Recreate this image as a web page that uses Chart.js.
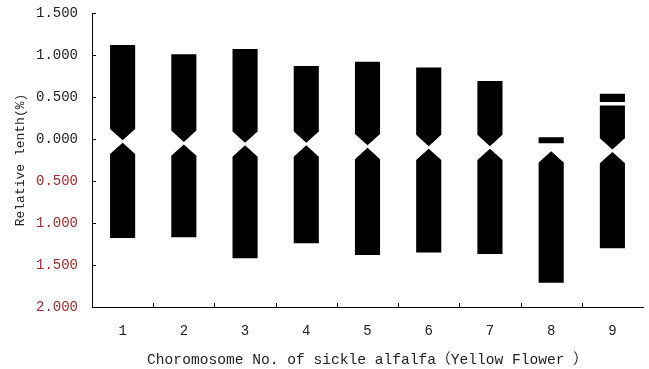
<!DOCTYPE html>
<html>
<head>
<meta charset="utf-8">
<script src="https://cdn.jsdelivr.net/npm/chart.js@4"></script>
<style>
  html, body { margin: 0; padding: 0; background: #fff; }
  #wrap { width: 649px; height: 369px; }
</style>
</head>
<body>
<div id="wrap"><canvas id="chart"></canvas></div>
<script>
// Datos del cariotipo (longitud relativa, %)
const chromosomes = ['1', '2', '3', '4', '5', '6', '7', '8', '9'];
const shortArm = [1.12, 1.01, 1.07, 0.87, 0.92, 0.85, 0.69, null, 0.40];
const longArm = [-1.18, -1.17, -1.42, -1.24, -1.38, -1.35, -1.37, -1.71, -1.30];
const centromere = [-0.03, -0.05, -0.06, -0.06, -0.09, -0.10, -0.10, -0.13, -0.14];
const satelliteTop = [null, null, null, null, null, null, null, 0.02, 0.54];
const satelliteBottom = [null, null, null, null, null, null, null, -0.05, 0.44];
const yTicks = [1.5, 1.0, 0.5, 0, -0.5, -1.0, -1.5, -2.0];

const halfWidth = 0.205;   // mitad del ancho del cromosoma
const shoulder = 0.15;     // donde empieza la muesca
const tip = 0.015;         // punta de la muesca

const mono = '"Liberation Mono", "DejaVu Sans Mono", "Noto Sans CJK SC", monospace';

function polygon(points) {
  return {
    data: points.map(p => ({ x: p[0], y: p[1] })),
    showLine: true,
    fill: 'shape',
    backgroundColor: '#000',
    borderColor: 'rgba(0,0,0,0)',
    borderWidth: 0,
    pointRadius: 0,
    pointHoverRadius: 0,
    tension: 0
  };
}

const datasets = [];
chromosomes.forEach((name, i) => {
  const x = i + 1;
  const c = centromere[i];
  // Brazo corto
  if (shortArm[i] !== null) {
    datasets.push(polygon([
      [x - halfWidth, shortArm[i]], [x + halfWidth, shortArm[i]],
      [x + halfWidth, c + shoulder], [x, c + tip],
      [x - halfWidth, c + shoulder], [x - halfWidth, shortArm[i]]
    ]));
  }
  // Brazo largo
  datasets.push(polygon([
    [x - halfWidth, c - shoulder], [x, c - tip], [x + halfWidth, c - shoulder],
    [x + halfWidth, longArm[i]], [x - halfWidth, longArm[i]], [x - halfWidth, c - shoulder]
  ]));
  // Satélite
  if (satelliteTop[i] !== null) {
    datasets.push(polygon([
      [x - halfWidth, satelliteTop[i]], [x + halfWidth, satelliteTop[i]],
      [x + halfWidth, satelliteBottom[i]], [x - halfWidth, satelliteBottom[i]],
      [x - halfWidth, satelliteTop[i]]
    ]));
  }
});

// Marcas de los ejes hacia dentro
const innerTicks = {
  id: 'innerTicks',
  afterDraw(chart) {
    const ctx = chart.ctx;
    const xs = chart.scales.x;
    const ys = chart.scales.y;
    ctx.save();
    ctx.strokeStyle = '#000';
    ctx.lineWidth = 1;
    ctx.beginPath();
    yTicks.forEach(v => {
      const py = Math.round(ys.getPixelForValue(v)) + 0.5;
      ctx.moveTo(xs.left, py);
      ctx.lineTo(xs.left + 4, py);
    });
    for (let k = 1; k < chromosomes.length; k++) {
      const px = Math.round(xs.getPixelForValue(k + 0.5)) + 0.5;
      ctx.moveTo(px, ys.bottom);
      ctx.lineTo(px, ys.bottom - 4);
    }
    ctx.stroke();
    ctx.restore();
  }
};

new Chart(document.getElementById('chart'), {
  type: 'scatter',
  data: { datasets: datasets },
  plugins: [innerTicks],
  options: {
    responsive: true,
    maintainAspectRatio: false,
    animation: false,
    events: [],
    layout: { padding: { top: 13, right: 6, left: 0, bottom: 0 } },
    plugins: {
      legend: { display: false },
      tooltip: { enabled: false }
    },
    scales: {
      x: {
        type: 'linear',
        min: 0.5,
        max: 9.5,
        afterBuildTicks: scale => {
          scale.ticks = chromosomes.map((_, i) => ({ value: i + 1 }));
        },
        afterFit: scale => {
          scale.height = 62;
          scale.paddingLeft = 0;
          scale.paddingRight = 0;
        },
        grid: { display: false, drawTicks: false },
        border: { display: true, color: '#000', width: 1 },
        ticks: {
          callback: v => chromosomes[v - 1],
          color: '#222',
          font: { family: mono, size: 14 },
          padding: 16,
          maxRotation: 0,
          autoSkip: false
        },
        title: {
          display: true,
          text: 'Choromosome No. of sickle alfalfa（Yellow Flower ）',
          color: '#222',
          font: { family: mono, size: 14.6 },
          padding: { top: 0, bottom: 0 }
        }
      },
      y: {
        type: 'linear',
        min: -2,
        max: 1.5,
        afterBuildTicks: scale => {
          scale.ticks = yTicks.map(v => ({ value: v }));
        },
        afterFit: scale => {
          scale.width = 92;
          scale.paddingTop = 0;
          scale.paddingBottom = 0;
        },
        grid: { display: false, drawTicks: false },
        border: { display: true, color: '#000', width: 1 },
        ticks: {
          callback: v => Math.abs(v).toFixed(3),
          color: ctx => ctx.tick.value < 0 ? '#a82828' : '#222',
          font: { family: mono, size: 14 },
          padding: 14
        },
        title: {
          display: true,
          text: 'Relative lenth(%)',
          color: '#222',
          font: { family: mono, size: 13 },
          padding: { top: 13, bottom: 0 }
        }
      }
    }
  }
});
</script>
</body>
</html>
